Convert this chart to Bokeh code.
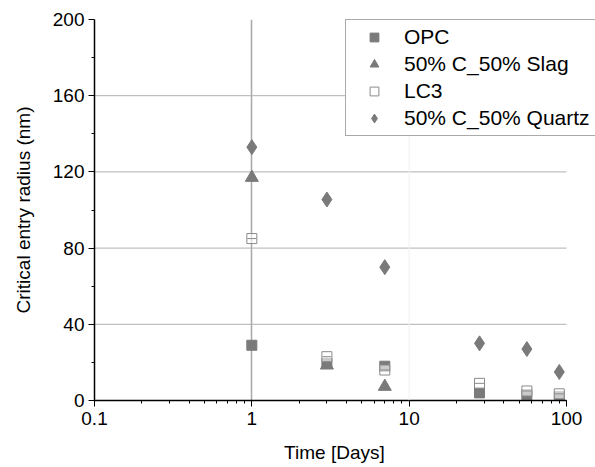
import math
from bokeh.plotting import figure
from bokeh.models import Legend, LegendItem, FixedTicker, Span, LogTicker
from bokeh.embed import file_html
from bokeh.resources import INLINE

days = [1, 3, 7, 28, 56, 90]
opc = [29, 19.5, 18, 4, 3, 2]
slag_days = [1, 3, 7]
slag = [117, 18.5, 7.3]
lc3 = [85, 23, 16, 9, 5, 3.5]
quartz = [133, 105.5, 70, 30, 27, 15]

y_ticks = [0, 40, 80, 120, 160, 200]
grid_y = [40, 80, 120, 160]
x_min, x_max = 0.1, 100

FONT = "Liberation Sans"
GRAY = "#7a7a7a"

# frame spans to the window's right edge so the legend can run past the axis end
frame_left, axis_px, total_w = 94, 472, 595
extra = (total_w - frame_left - axis_px) / axis_px * math.log10(x_max / x_min)
x_end = x_max * 10 ** extra

p = figure(width=595, height=467, x_axis_type="log", x_range=(x_min, x_end), y_range=(0, 200),
           output_backend="svg", toolbar_location=None,
           min_border_left=94, min_border_right=0, min_border_top=19, min_border_bottom=67)
p.outline_line_color = None

for ax in (p.xaxis[0], p.yaxis[0]):
    ax.axis_line_color = "black"
    ax.axis_line_width = 1.5
    ax.major_tick_line_color = "black"
    ax.minor_tick_line_color = "black"
    ax.major_tick_out = 6
    ax.major_tick_in = 0
    ax.minor_tick_out = 3
    ax.minor_tick_in = 0
    ax.major_label_text_font = FONT
    ax.major_label_text_font_size = "19px"
    ax.major_label_text_color = "black"
    ax.axis_label_text_font = FONT
    ax.axis_label_text_font_size = "19px"
    ax.axis_label_text_font_style = "normal"
    ax.axis_label_text_color = "black"

p.xaxis.bounds = (x_min, x_max)
p.xaxis.ticker = LogTicker(desired_num_ticks=4, num_minor_ticks=10)
p.xaxis.major_label_overrides = {0.1: "0.1", 1: "1", 10: "10", 100: "100"}
p.yaxis.ticker = FixedTicker(ticks=y_ticks, minor_ticks=[20, 60, 100, 140, 180])
# trailing no-break spaces shift the centred label left, onto the axis' own centre
p.xaxis.axis_label = "Time [Days]" + "\u00a0" * 4
p.yaxis.axis_label = "Critical entry radius (nm)"
p.xaxis.axis_label_standoff = 14
p.yaxis.axis_label_standoff = 16
p.yaxis.major_label_standoff = 4

p.ygrid.visible = False
p.segment(x0=[x_min] * len(grid_y), x1=[x_max] * len(grid_y), y0=grid_y, y1=grid_y,
          line_color="#b0b0b0", line_width=1)
p.xgrid.ticker = FixedTicker(ticks=[1])
p.xgrid.grid_line_color = "#a8a8a8"
p.xgrid.grid_line_width = 1.5
p.add_layout(Span(location=10, dimension="height", line_color="#f0f0f0", line_width=1))

r_opc = p.scatter(days, opc, marker="square", size=10, fill_color=GRAY, line_color=GRAY)
r_slag = p.scatter(slag_days, slag, marker="triangle", size=13, fill_color=GRAY, line_color=GRAY)
r_lc3 = p.scatter(days, lc3, marker="square", size=10, fill_color="white", fill_alpha=0.6,
                  line_color="#8a8a8a", line_width=1)
p.scatter(days, lc3, marker="dash", size=9, line_color="#8a8a8a", line_width=1)
r_q = p.scatter(days, quartz, marker="diamond", size=15, fill_color=GRAY, line_color=GRAY)

legend = Legend(items=[
    LegendItem(label="OPC", renderers=[r_opc]),
    LegendItem(label="50% C_50% Slag", renderers=[r_slag]),
    LegendItem(label="LC3", renderers=[r_lc3]),
    LegendItem(label="50% C_50% Quartz", renderers=[r_q]),
], location=(251, 264))
legend.label_text_font = FONT
legend.label_text_font_size = "21px"
legend.label_text_color = "black"
legend.border_line_color = "#555555"
legend.border_line_width = 1
legend.spacing = 3
legend.padding = 5
legend.margin = 0
legend.glyph_width = 46
legend.glyph_height = 22
legend.label_standoff = 7
legend.label_height = 22
legend.background_fill_alpha = 1
p.add_layout(legend, "center")

open("out.html", "w").write(file_html(p, INLINE))
